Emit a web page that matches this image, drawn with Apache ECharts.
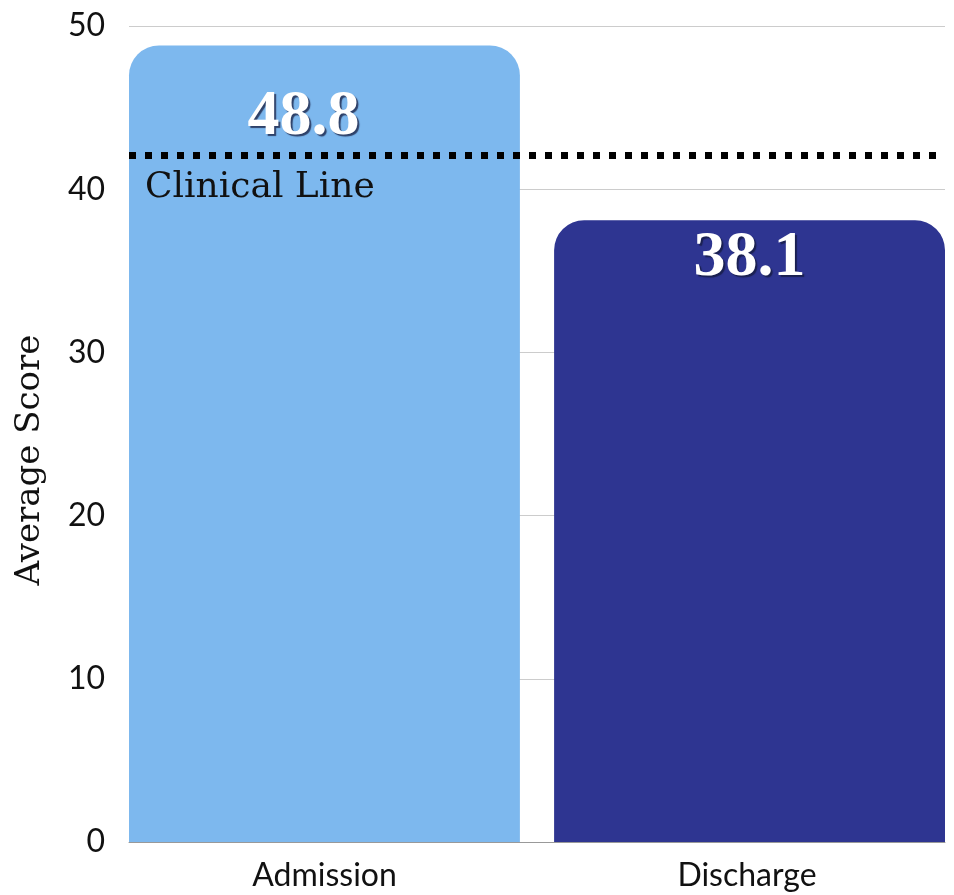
<!DOCTYPE html>
<html>
<head>
<meta charset="utf-8">
<script src="https://cdn.jsdelivr.net/npm/echarts@6/dist/echarts.min.js"></script>
<style>
  html, body { margin: 0; padding: 0; background: #ffffff; }
  #chart { width: 954px; height: 895px; }
</style>
</head>
<body>
<div id="chart"></div>
<script>
// Average score at admission and at discharge, against the clinical cut-off
const categories = ['Admission', 'Discharge'];
const scores = [48.8, 38.1];
const clinicalLine = 42.1;
const yTicks = { min: 0, max: 50, interval: 10 };

const barColors = ['#7db8ee', '#2e3591'];
const labelDistance = [40, 6];
const labelNudge = [[-21, 0], [0, 0]];
const labelShift = [[0, 17, 0, 0], [0, 0, 0, 12]];

const chart = echarts.init(document.getElementById('chart'), null, { renderer: 'canvas' });

const series = categories.map((name, i) => ({
  type: 'bar',
  name: name,
  data: scores.map((v, j) => (j === i ? v : '-')),
  barWidth: 391,
  barGap: '-95.6%',
  itemStyle: { color: barColors[i], borderRadius: [30, 30, 0, 0] },
  label: {
    show: true,
    position: 'insideTop',
    distance: labelDistance[i],
    offset: labelNudge[i],
    formatter: (p) => p.value.toFixed(1),
    fontFamily: 'Liberation Serif',
    fontWeight: 'bold',
    fontSize: 64,
    color: '#ffffff',
    textShadowColor: 'rgba(20, 25, 60, 0.75)',
    textShadowOffsetX: 2,
    textShadowOffsetY: 2,
    textShadowBlur: 1
  },
  z: 2
}));

series[0].markLine = {
  silent: true,
  symbol: 'none',
  z: 5,
  lineStyle: { color: '#000000', width: 7, type: [7, 9], cap: 'butt' },
  label: {
    show: true,
    position: 'insideStartBottom',
    formatter: 'Clinical Line',
    fontFamily: 'DejaVu Serif',
    fontSize: 36,
    color: '#111111',
    distance: [16, 15]
  },
  data: [{ yAxis: clinicalLine }]
};

chart.setOption({
  animation: false,
  backgroundColor: '#ffffff',
  grid: { left: 129, right: 9, top: 26, bottom: 53 },
  xAxis: {
    type: 'category',
    data: categories.map((c, i) => ({ value: c, textStyle: { padding: labelShift[i] } })),
    axisLine: { show: true, lineStyle: { color: '#999999', width: 1 } },
    axisTick: { show: false },
    axisLabel: {
      fontFamily: 'Lato',
      fontSize: 32,
      color: '#111111',
      margin: 18
    }
  },
  yAxis: {
    type: 'value',
    min: yTicks.min,
    max: yTicks.max,
    interval: yTicks.interval,
    name: 'Average Score',
    nameLocation: 'middle',
    nameGap: 82,
    nameTextStyle: {
      fontFamily: 'DejaVu Serif',
      fontSize: 34,
      color: '#111111',
      padding: [0, 52, 0, 0]
    },
    axisLine: { show: false },
    axisTick: { show: false },
    axisLabel: {
      fontFamily: 'Lato',
      fontSize: 32,
      color: '#111111',
      margin: 24
    },
    splitLine: { show: true, lineStyle: { color: '#cccccc', width: 1 } }
  },
  series: series
});
</script>
</body>
</html>
